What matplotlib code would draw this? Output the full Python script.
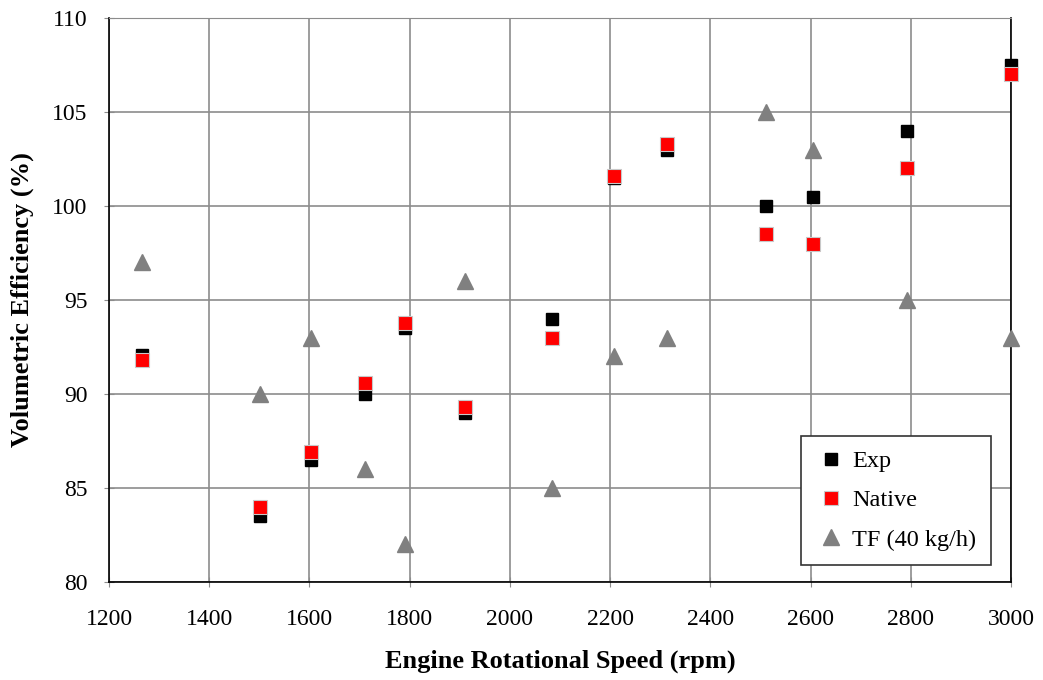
import matplotlib.pyplot as plt

speed = [1266, 1502, 1603, 1711, 1791, 1911, 2084, 2208, 2314, 2511, 2605, 2793, 3000]
exp = [92.1, 83.5, 86.5, 90.0, 93.5, 89.0, 94.0, 101.5, 103.0, 100.0, 100.5, 104.0, 107.5]
native = [91.8, 84.0, 86.9, 90.6, 93.8, 89.3, 93.0, 101.6, 103.3, 98.5, 98.0, 102.0, 107.0]
tf = [97.0, 90.0, 93.0, 86.0, 82.0, 96.0, 85.0, 92.0, 93.0, 105.0, 103.0, 95.0, 93.0]

SERIF = ["Liberation Serif", "DejaVu Serif"]
plt.rcParams["font.family"] = SERIF

fig = plt.figure(figsize=(10.43, 6.8), dpi=100)
ax = fig.add_axes([0.1045, 0.1441, 0.8648, 0.8294])

ax.plot(speed, exp, "s", color="black", markersize=9, label="Exp", zorder=3, clip_on=False)
ax.plot(speed, native, "s", color="#ff0000", markeredgecolor="#c8c8c8", markeredgewidth=0.8,
        markersize=10.5, label="Native", zorder=4, clip_on=False)
ax.plot(speed, tf, "^", color="#808080", markersize=12, label="TF (40 kg/h)", zorder=4, clip_on=False)

ax.set_xlim(1200, 3000)
ax.set_ylim(80, 110)
ax.set_xticks(range(1200, 3001, 200))
ax.set_yticks(range(80, 111, 5))
ax.grid(True, color="#8c8c8c", linewidth=1.2)
ax.set_axisbelow(True)
ax.tick_params(labelsize=17, length=7, direction="inout", color="#8c8c8c",
               labelfontfamily=SERIF)
ax.tick_params(axis="x", pad=16)
ax.tick_params(axis="y", pad=12)
for s in ["left", "bottom", "right"]:
    ax.spines[s].set_color("black")
    ax.spines[s].set_linewidth(1.2)
ax.spines["top"].set_color("#8c8c8c")

ax.set_xlabel("Engine Rotational Speed (rpm)", fontsize=19, fontweight="bold", va="center",
              family=SERIF)
ax.set_ylabel("Volumetric Efficiency (%)", fontsize=19, fontweight="bold", va="center",
              family=SERIF)
ax.xaxis.set_label_coords(0.5, -0.140)
ax.yaxis.set_label_coords(-0.0965, 0.5)

leg = ax.legend(loc="lower right", bbox_to_anchor=(0.978, 0.03),
                prop={"family": SERIF, "size": 17.5}, fancybox=False,
                framealpha=1, edgecolor="#333333", borderpad=0.6, labelspacing=0.7,
                handletextpad=0.3, handlelength=1.2, borderaxespad=0)
leg.get_frame().set_linewidth(1.2)

fig.savefig("out.png", dpi=100)
